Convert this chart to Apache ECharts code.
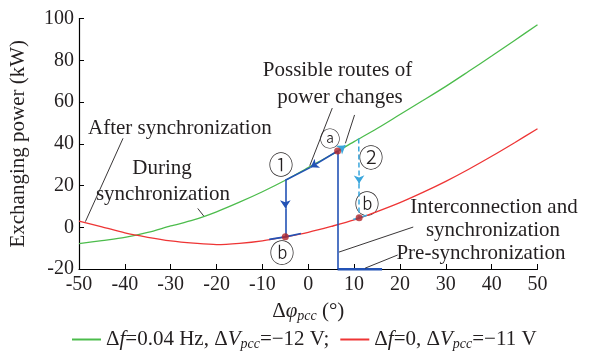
<!DOCTYPE html>
<html><head><meta charset="utf-8">
<script src="https://cdn.jsdelivr.net/npm/echarts@6/dist/echarts.min.js"></script>
<style>html,body{margin:0;padding:0;background:#fff}#c{width:594px;height:360px}</style>
</head><body><div id="c"></div>
<script>
// Phase difference (deg)
const phi = [-50,-45,-40,-35,-30,-25,-20,-15,-10,-5,0,5,10,15,20,25,30,35,40,45,50];
// Δf=0.04 Hz, ΔVpcc=-12 V (during synchronization) – green
const powerDuring = [-7.8,-6.4,-4.9,-2.5,0.6,3.5,7.4,12.0,17.0,22.5,28.6,34.6,41.0,47.3,54.0,60.7,67.5,74.7,82.0,89.5,97.0];
// Δf=0, ΔVpcc=-11 V (after synchronization) – red
const powerAfter = [2.9,0.2,-2.7,-4.8,-6.5,-7.6,-8.3,-7.7,-6.5,-4.6,-2.4,0.4,3.5,7.5,11.8,16.7,22.0,27.8,34.0,40.5,47.2];

const xTicks = {min:-50, max:50, step:10};
const yTicks = {min:-20, max:100, step:20};

// key operating points
const pointA  = [6.4, 36.5];
const point1  = [-5, 22.5];
const pointB1 = [-5, -4.6];
const point2  = [11.0, 42.5];
const pointB2 = [11.1, 4.5];
// route arrow tips
const arrow1a = [0.5, 28.7];
const arrow1b = [-5, 9.1];
const arrow2a = [8.1, 39.2];
const arrow2b = [11.1, 21.0];
const blueOnRed = [[-8.5,-5.8],[-5,-4.6],[-1.6,-3.0]];
const cyanOnRed = [[9.8,3.7],[11.1,4.5],[12.8,5.7]];
const preSync = [[6.4,-20],[16.1,-20]];
const interconn = [pointA,[6.4,-20]];

// leader lines (data coords)
const leaders = [
  [[5.24,57.1],[0.33,29.5]],
  [[10.1,53.8],[8.1,40.2]],
  [[-40.4,42.6],[-48.6,2.7]],
  [[-24.1,9.0],[-22.8,5.4]],
  [[6.7,-11.9],[22.9,0.1]],
  [[12.4,-19.6],[19.5,-13.3]]
];

const GREEN='#4cbc4c', RED='#ee3535', BLUE='#2352b5', CYAN='#3aa6dc', DOT='#b3262b', INK='#231f20';
const FF='"Liberation Serif","Times New Roman",serif';

const chart = echarts.init(document.getElementById('c'), null, {renderer:'canvas'});
const toPairs = (xs, ys) => xs.map((x,i)=>[x, ys[i]]);
const seg = (a,b)=>({coords:[a,b]});

const rich = {
  n:{fontFamily:FF,fontSize:21,color:INK},
  i:{fontFamily:FF,fontSize:21,fontStyle:'italic',color:INK},
  s:{fontFamily:FF,fontSize:14,fontStyle:'italic',color:INK,padding:[9,0,0,0]}
};

function txt(text, x, y, size, align){
  return {type:'text', x:x, y:y, silent:true,
    style:{text:text, font:(size||21)+'px '+FF, fill:INK,
      align:align||'center', verticalAlign:'middle', textAlign:align||'center', textVerticalAlign:'middle'}};
}
const CF = '"Noto Sans CJK SC","DejaVu Sans",sans-serif';
function circ(text,x,y,size){
  return {type:'text', x:x, y:y, silent:true,
    style:{text:text, font:'300 '+(size||25)+'px '+CF, fill:INK, align:'center', verticalAlign:'middle', textAlign:'center', textVerticalAlign:'middle'}};
}

chart.setOption({
  animation:false,
  backgroundColor:'#fff',
  grid:{left:74, right:56.5, top:18.5, bottom:91},
  xAxis:{type:'value', min:xTicks.min, max:xTicks.max, interval:xTicks.step,
    axisLine:{onZero:false,lineStyle:{color:'#000',width:1.2}},
    axisTick:{inside:true,length:5,lineStyle:{color:'#000'}},
    splitLine:{show:false},
    axisLabel:{fontFamily:FF,fontSize:20,color:INK,margin:6},
    name:'Δ{i|φ}{s|pcc} (°)', nameLocation:'middle', nameGap:31,
    nameTextStyle:{fontFamily:FF,fontSize:21,color:INK,rich:rich}
  },
  yAxis:{type:'value', min:yTicks.min, max:yTicks.max, interval:yTicks.step,
    axisLine:{show:true,onZero:false,lineStyle:{color:'#000',width:1.2}},
    axisTick:{show:true,inside:true,length:5,lineStyle:{color:'#000'}},
    splitLine:{show:false},
    axisLabel:{fontFamily:FF,fontSize:20,color:INK,margin:5},
    name:'Exchanging power (kW)', nameLocation:'middle', nameGap:50,
    nameTextStyle:{fontFamily:FF,fontSize:21,color:INK}
  },
  legend:{
    left:71, top:329, padding:0, itemWidth:29, itemHeight:14, itemGap:10,
    itemStyle:{opacity:0},
    data:['during','after'],
    formatter:function(n){
      return n==='during' ? '{n|Δ}{i|f}{n|=0.04 Hz, Δ}{i|V}{s|pcc}{n|=−12 V;}'
                          : '{n|Δ}{i|f}{n|=0, Δ}{i|V}{s|pcc}{n|=−11 V}';
    },
    textStyle:{rich:rich}
  },
  series:[
    {name:'during', type:'line', data:toPairs(phi,powerDuring), smooth:0.3, showSymbol:false, symbol:'none',
      lineStyle:{color:GREEN,width:1.3}, itemStyle:{color:GREEN}, z:2},
    {name:'after', type:'line', data:toPairs(phi,powerAfter), smooth:0.3, showSymbol:false, symbol:'none',
      lineStyle:{color:RED,width:1.3}, itemStyle:{color:RED}, z:2},
    {type:'lines', coordinateSystem:'cartesian2d', polyline:true, z:3,
      lineStyle:{color:BLUE,width:1.6,opacity:1},
      data:[{coords:blueOnRed}]},
    {type:'lines', coordinateSystem:'cartesian2d', polyline:true, z:3,
      lineStyle:{color:CYAN,width:1.6,opacity:1},
      data:[{coords:cyanOnRed}]},
    {type:'lines', coordinateSystem:'cartesian2d', z:4, symbol:['none','arrow'], symbolSize:8,
      lineStyle:{color:BLUE,width:1.6,opacity:1},
      data:[seg(pointA,arrow1a), seg(point1,arrow1b)]},
    {type:'lines', coordinateSystem:'cartesian2d', z:4,
      lineStyle:{color:BLUE,width:1.6,opacity:1},
      data:[seg(arrow1a,point1), seg(arrow1b,pointB1), seg(interconn[0],interconn[1])]},
    {type:'lines', coordinateSystem:'cartesian2d', z:4,
      lineStyle:{color:BLUE,width:3,opacity:1},
      data:[seg(preSync[0],preSync[1])]},
    {type:'lines', coordinateSystem:'cartesian2d', z:4, symbol:['none','arrow'], symbolSize:8,
      lineStyle:{color:CYAN,width:1.5,opacity:1},
      data:[seg(pointA,arrow2a)]},
    {type:'lines', coordinateSystem:'cartesian2d', z:4, symbol:['none','arrow'], symbolSize:8,
      lineStyle:{color:CYAN,width:1.5,type:[5,3],opacity:1},
      data:[seg(point2,arrow2b)]},
    {type:'lines', coordinateSystem:'cartesian2d', z:4,
      lineStyle:{color:CYAN,width:1.5,type:[5,3],opacity:1},
      data:[seg(arrow2b,pointB2)]},
    {type:'lines', coordinateSystem:'cartesian2d', z:5,
      lineStyle:{color:INK,width:0.9,opacity:1},
      data:leaders.map(l=>seg(l[0],l[1]))},
    {type:'scatter', data:[pointA,pointB1,pointB2], symbolSize:7, itemStyle:{color:DOT}, z:6}
  ],
  graphic:[
    txt('Possible routes of',337.5,70),
    txt('power changes',340,97),
    txt('After synchronization',88,128,21,'left'),
    txt('During',162,168),
    txt('synchronization',163,194),
    txt('Interconnection and',494,207),
    txt('synchronization',493,230),
    txt('Pre-synchronization',481,253),
    circ('①',281,164), circ('②',371,157), circ('ⓐ',330,138,21), circ('ⓑ',282,252), circ('ⓑ',367,203)
  ]
});
</script></body></html>
